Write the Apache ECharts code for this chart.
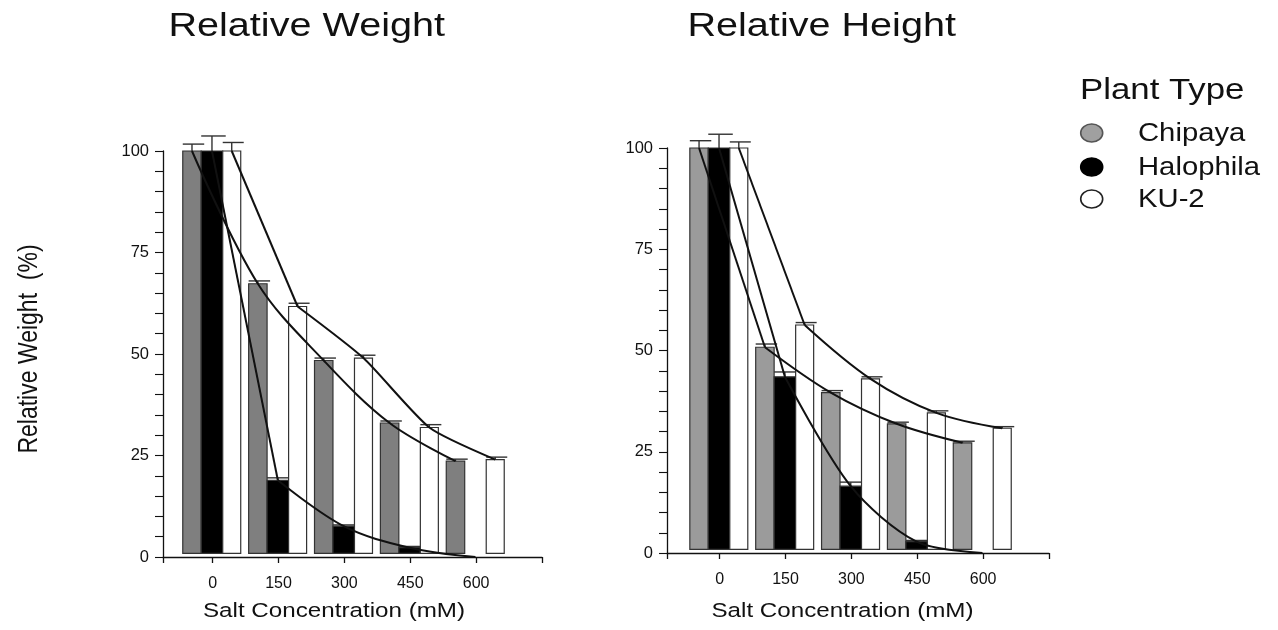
<!DOCTYPE html>
<html>
<head>
<meta charset="utf-8">
<script src="https://cdn.jsdelivr.net/npm/echarts@6/dist/echarts.min.js"></script>
<style>
  html, body { margin: 0; background: #fff; }
  #chart { width: 1278px; height: 630px; }
</style>
</head>
<body>
<div id="chart"></div>
<script>
// ── Data ────────────────────────────────────────────────────
const salt = [0, 150, 300, 450, 600];
const yLabels = [0, 25, 50, 75, 100];

// Relative weight (%)
const weightChipaya = [100, 67.3, 48.4, 33, 23.6];
const weightHalophila = [100, 18.9, 7.6, 2.3, 0];
const weightKU2 = [100, 61.7, 49, 31.9, 24];
const weightChipayaErr = [1.7, 0.7, 0.6, 0.5, 0.5];
const weightHalophilaErr = [3.7, 0.6, 0.3, 0.3, 0];
const weightKU2Err = [2.1, 0.8, 0.7, 0.7, 0.6];

// Relative height (%)
const heightChipaya = [100, 50.8, 39.6, 31.9, 27.2];
const heightHalophila = [100, 43.5, 16.5, 2.8, 0];
const heightKU2 = [100, 56.3, 43, 34.6, 30.8];
const heightChipayaErr = [1.8, 0.8, 0.5, 0.4, 0.4];
const heightHalophilaErr = [3.4, 1.2, 1.0, 0.3, 0];
const heightKU2Err = [1.5, 0.6, 0.5, 0.5, 0.4];

const plantNames = ['Chipaya', 'Halophila', 'KU-2'];

// ── Layout (axis units) ─────────────────────────────────────
const BAR_BASE = 0.9;
const plantLayout = [
    { shift: -47, width: 42 },
    { shift: -1.5, width: 49 },
    { shift: 43.5, width: 41 },
];

const panels = [
    {
        grid: { left: 163, top: 151, width: 379, height: 406 },
        xMin: -113,
        fills: ['#7f7f7f', '#000000', '#ffffff'],
        values: [weightChipaya, weightHalophila, weightKU2],
        errs: [weightChipayaErr, weightHalophilaErr, weightKU2Err],
        kinks: [false, true, true],
        smooth: [0.35, 0.35, 0.2],
    },
    {
        grid: { left: 667, top: 148, width: 382, height: 405 },
        xMin: -120,
        fills: ['#9b9b9b', '#000000', '#ffffff'],
        values: [heightChipaya, heightHalophila, heightKU2],
        errs: [heightChipayaErr, heightHalophilaErr, heightKU2Err],
        kinks: [true, true, true],
        smooth: [0.35, 0.3, 0.35],
    },
]

const FONT = '"Liberation Sans", Arial, sans-serif'

function barRenderer(shift, width, fill) {
    return function (params, api) {
        const x = api.value(0) + shift
        const v = api.value(1)
        const e = api.value(2)
        if (v <= BAR_BASE) return null
        const top = api.coord([x, v])
        const bot = api.coord([x, BAR_BASE])
        const w = api.size([width, 0])[0]
        const children = [{
            type: 'rect',
            shape: { x: top[0] - w / 2, y: top[1], width: w, height: bot[1] - top[1] },
            style: { fill: fill, stroke: '#333', lineWidth: 1.2 },
        }]
        if (e > 0) {
            const cap = api.coord([x, v + e])
            const half = w / 2 + 1.5
            children.push({
                type: 'line',
                shape: { x1: top[0], y1: top[1], x2: cap[0], y2: cap[1] },
                style: { stroke: '#333', lineWidth: 1.4 },
            })
            children.push({
                type: 'line',
                shape: { x1: cap[0] - half + 1.5, y1: cap[1], x2: cap[0] + half + 1.5, y2: cap[1] },
                style: { stroke: '#333', lineWidth: 1.4 },
            })
        }
        return { type: 'group', children: children }
    }
}

const grids = []
const xAxes = []
const yAxes = []
const series = []

panels.forEach((p, gi) => {
    grids.push(p.grid)
    xAxes.push({
        type: 'value',
        gridIndex: gi,
        min: p.xMin,
        max: 750,
        axisLine: { onZero: false, lineStyle: { color: '#111', width: 1.3 } },
        axisTick: { customValues: [p.xMin].concat(salt, [750]), length: 6, lineStyle: { color: '#111', width: 1.3 } },
        axisLabel: { customValues: salt, color: '#111', fontSize: 16, fontFamily: FONT, margin: 19 },
        splitLine: { show: false },
    })
    yAxes.push({
        type: 'value',
        gridIndex: gi,
        min: 0,
        max: 100,
        interval: 25,
        axisLine: { show: true, onZero: false, lineStyle: { color: '#111', width: 1.3 } },
        axisTick: { length: 8, lineStyle: { color: '#111', width: 1.1 } },
        minorTick: { show: true, splitNumber: 5, length: 8, lineStyle: { color: '#111', width: 1.1 } },
        axisLabel: { customValues: yLabels, color: '#111', fontSize: 16.5, fontFamily: FONT, margin: 14 },
        splitLine: { show: false },
        minorSplitLine: { show: false },
    })

    plantNames.forEach((name, k) => {
        const lay = plantLayout[k]
        series.push({
            type: 'custom',
            name: name,
            xAxisIndex: gi,
            yAxisIndex: gi,
            z: 2,
            silent: true,
            renderItem: barRenderer(lay.shift, lay.width, p.fills[k]),
            encode: { x: 0, y: 1 },
            data: salt.map((x, i) => [x, p.values[k][i], p.errs[k][i]]),
        })
    })

    plantNames.forEach((name, k) => {
        const pts = salt.map((x, i) => [x + plantLayout[k].shift, p.values[k][i]])
        const base = {
            type: 'line',
            xAxisIndex: gi,
            yAxisIndex: gi,
            z: 4,
            silent: true,
            symbol: 'none',
            lineStyle: { color: '#111', width: 2 },
        }
        if (p.kinks[k]) {
            series.push(Object.assign({}, base, { data: pts.slice(0, 2), smooth: false }))
            series.push(Object.assign({}, base, { data: pts.slice(1), smooth: p.smooth[k] }))
        } else {
            series.push(Object.assign({}, base, { data: pts, smooth: p.smooth[k] }))
        }
    })
})

// ── Texts & legend ──────────────────────────────────────────
function label(text, x, y, size, opts) {
    return Object.assign({
        type: 'text',
        x: x,
        y: y,
        silent: true,
        style: {
            text: text,
            x: 0,
            y: 0,
            font: size + 'px ' + FONT,
            fill: '#111',
            textAlign: 'center',
            textVerticalAlign: 'middle',
        },
    }, opts || {})
}

const legendY = [133, 167, 199]
const legendFill = ['#a0a0a0', '#000000', '#ffffff']
const legendStroke = ['#555', '#000', '#222']

const graphics = [
    label('Relative Weight', 306.7, 27, 33, { scaleX: 1.2 }),
    label('Relative Height', 821.7, 27, 33, { scaleX: 1.2 }),
    label('Relative Weight  (%)', 29, 349, 23, { rotation: Math.PI / 2, scaleY: 1.2 }),
    label('Salt Concentration (mM)', 334, 611, 20.5, { scaleX: 1.18 }),
    label('Salt Concentration (mM)', 842.5, 611, 20.5, { scaleX: 1.18 }),
]
const plantTitle = label('Plant Type', 1080, 91, 29, { scaleX: 1.2 })
plantTitle.style.textAlign = 'left'
graphics.push(plantTitle)

plantNames.forEach((name, k) => {
    graphics.push({
        type: 'ellipse',
        silent: true,
        shape: { cx: 1091.7, cy: legendY[k], rx: 11, ry: 9 },
        style: { fill: legendFill[k], stroke: legendStroke[k], lineWidth: 1.6 },
    })
    const t = label(name, 1138, legendY[k] + 1, 25, { scaleX: 1.17 })
    t.style.textAlign = 'left'
    graphics.push(t)
})

const chart = echarts.init(document.getElementById('chart'))
chart.setOption({
    animation: false,
    backgroundColor: '#fff',
    grid: grids,
    xAxis: xAxes,
    yAxis: yAxes,
    series: series,
    graphic: graphics,
})
</script>
</body>
</html>
